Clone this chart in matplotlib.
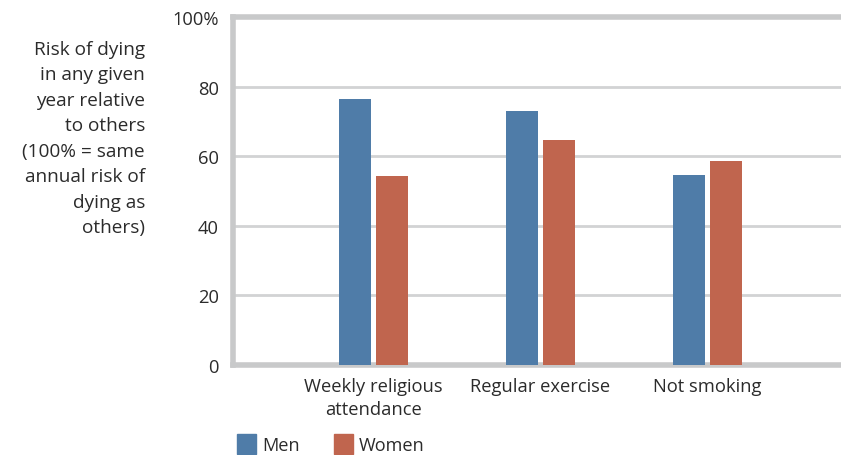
import matplotlib
matplotlib.use("Agg")
import matplotlib.pyplot as plt
import numpy as np
from matplotlib.patches import Rectangle

categories = ["Weekly religious\nattendance", "Regular exercise", "Not smoking"]
men = [76.4, 73.0, 54.6]
women = [54.3, 64.7, 58.6]
yticks = [0, 20, 40, 60, 80, 100]
ytick_labels = ["0", "20", "40", "60", "80", "100%"]
series_names = ["Men", "Women"]
ylabel = "Risk of dying\nin any given\nyear relative\nto others\n(100% = same\nannual risk of\ndying as\nothers)"

BLUE = "#4f7ca8"
ORANGE = "#c0654e"
TEXT = "#2b2b2b"
GRID = "#d2d3d4"

plt.rcParams['font.family'] = ['Open Sans', 'DejaVu Sans']

fig = plt.figure(figsize=(8.41, 4.56), dpi=100)
ax = fig.add_axes([233/841, 1-366/456, 1-233/841, (366-18)/456])

x = np.arange(len(categories))
w = 0.19
gap = 0.03
ax.bar(x - w/2 - gap/2, men, width=w, color=BLUE, zorder=3)
ax.bar(x + w/2 + gap/2, women, width=w, color=ORANGE, zorder=3)

ax.set_xlim(-0.84, 2.80)
ax.set_ylim(0, 100)
ax.set_yticks(yticks)
ax.set_yticklabels(ytick_labels, fontsize=13.2, color=TEXT)
ax.set_xticks(x)
ax.set_xticklabels(categories, fontsize=13.2, color=TEXT, linespacing=1.3)
ax.tick_params(axis='both', length=0)
ax.tick_params(axis='y', pad=10)
ax.tick_params(axis='x', pad=9)

for yv in yticks[1:-1]:
    ax.axhline(yv, color=GRID, lw=2, zorder=1)
ax.axhline(100, color="#c8c9ca", lw=4, zorder=2, clip_on=False)

for s in ["top", "right"]:
    ax.spines[s].set_visible(False)
ax.spines["left"].set_color("#c8c9ca")
ax.spines["left"].set_linewidth(4)
ax.spines["bottom"].set_color("#c8c9ca")
ax.spines["bottom"].set_linewidth(4)

fig.text(145/841, 1-139/456, ylabel, ha='right', va='center', fontsize=13.7,
         color=TEXT, linespacing=1.53)

# legend
colors = [BLUE, ORANGE]
lx = [237, 334]
for name, c, px in zip(series_names, colors, lx):
    fig.patches.append(Rectangle((px/841, 1-455/456), 19/841, 20/456,
                                 transform=fig.transFigure, color=c, figure=fig))
    fig.text((px+25)/841, 1-446/456, name, ha='left', va='center',
             fontsize=13.1, color=TEXT)

fig.savefig("out.png", dpi=100)
